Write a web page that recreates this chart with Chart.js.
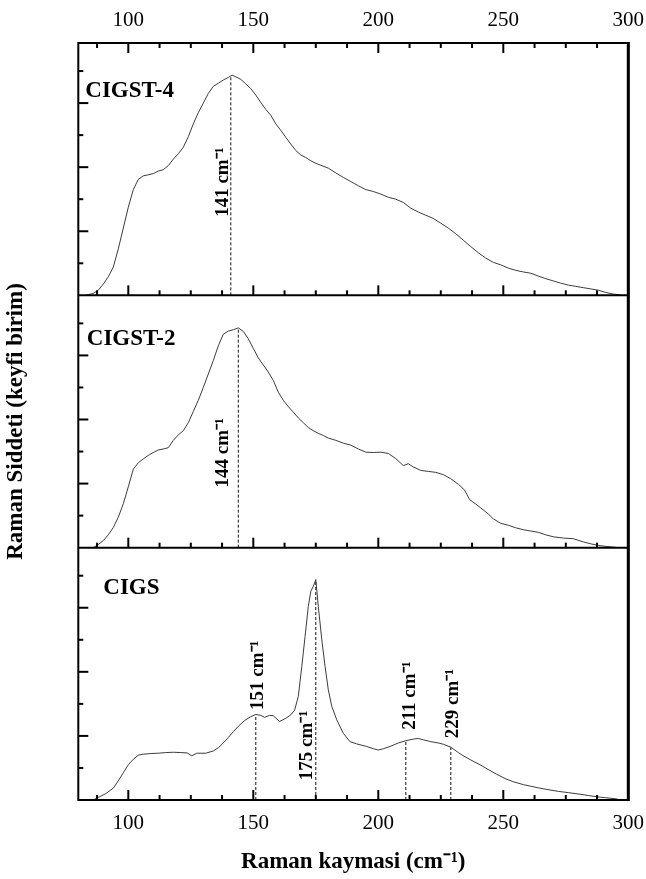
<!DOCTYPE html>
<html>
<head>
<meta charset="utf-8">
<title>Raman</title>
<script src="https://cdn.jsdelivr.net/npm/chart.js@4.4.1/dist/chart.umd.min.js"></script>
<style>
  html, body { margin: 0; padding: 0; background: #fff; }
  #wrap { width: 646px; height: 879px; }
</style>
</head>
<body>
<div id="wrap"><canvas id="raman" width="646" height="879"></canvas></div>
<script>
/* Raman spektrumlari – CIGST-4, CIGST-2, CIGS (ust uste uc panel) */

// CIGST-4
const cigst4Shift = [83, 86, 88, 90, 92, 94, 96, 98, 100, 102, 104, 106, 108, 110, 112, 114, 116, 118, 120, 122,
    124, 126, 128, 130, 132, 134, 136, 138, 140, 141.5, 143, 145, 147, 149, 151, 153, 155, 157, 159, 161,
    163, 165, 167, 169, 171, 173, 175, 177, 180, 183, 186, 189, 192, 195, 198, 201, 204, 207, 210, 213,
    216, 219, 222, 225, 228, 231, 234, 237, 240, 243, 246, 249, 252, 255, 258, 261, 264, 267, 270, 273,
    276, 279, 282, 285, 288, 291, 294, 297];
const cigst4Int = [0.0, 0.06, 0.16, 0.35, 0.58, 0.88, 1.45, 2.1, 2.75, 3.3, 3.62, 3.73, 3.76, 3.8, 3.88, 3.92, 4.05, 4.25, 4.42, 4.62,
    4.95, 5.35, 5.7, 6.0, 6.3, 6.52, 6.62, 6.72, 6.8, 6.87, 6.82, 6.74, 6.6, 6.45, 6.25, 6.02, 5.8, 5.62, 5.35, 5.15,
    4.93, 4.72, 4.52, 4.38, 4.3, 4.2, 4.12, 4.06, 3.97, 3.82, 3.68, 3.55, 3.42, 3.3, 3.24, 3.16, 3.06, 3.0, 2.9, 2.72,
    2.6, 2.5, 2.4, 2.25, 2.1, 1.92, 1.72, 1.52, 1.33, 1.16, 1.03, 0.95, 0.85, 0.78, 0.73, 0.69, 0.6, 0.52, 0.45, 0.38,
    0.32, 0.28, 0.24, 0.2, 0.16, 0.09, 0.04, 0.01];
const cigst4Peaks = [141];

// CIGST-2
const cigst2Shift = [86, 88, 90, 92, 94, 96, 98, 100, 102, 104, 106, 108, 110, 112, 114, 116, 118, 120, 122, 124,
    126, 128, 130, 132, 134, 136, 138, 140, 142, 144, 146, 148, 150, 152, 154, 156, 158, 160, 162, 164,
    166, 168, 170, 172, 174, 176, 178, 180, 183, 186, 189, 192, 195, 198, 201, 204, 207, 210, 212, 214,
    217, 220, 223, 226, 229, 232, 234.5, 236.5, 239, 241, 244, 246, 249, 252, 255, 258, 261, 264, 267, 270,
    274, 278, 282, 285, 288, 291, 295];
const cigst2Int = [0.0, 0.1, 0.22, 0.4, 0.63, 0.95, 1.37, 1.9, 2.45, 2.65, 2.77, 2.88, 2.97, 3.05, 3.08, 3.12, 3.35, 3.52, 3.65, 3.9,
    4.25, 4.6, 5.0, 5.42, 5.84, 6.3, 6.66, 6.76, 6.8, 6.86, 6.75, 6.52, 6.22, 5.92, 5.7, 5.48, 5.22, 4.85, 4.6, 4.4,
    4.23, 4.05, 3.9, 3.75, 3.65, 3.57, 3.5, 3.42, 3.35, 3.26, 3.2, 3.08, 2.98, 2.97, 2.98, 2.94, 2.78, 2.56, 2.62, 2.52,
    2.41, 2.38, 2.35, 2.28, 2.15, 1.98, 1.8, 1.5, 1.36, 1.24, 1.05, 0.9, 0.76, 0.7, 0.62, 0.56, 0.52, 0.48, 0.4, 0.34,
    0.3, 0.28, 0.18, 0.12, 0.07, 0.04, 0.01];
const cigst2Peaks = [144];

// CIGS
const cigsShift = [86, 88, 91, 94, 96, 98, 100, 102, 104, 106, 109, 112, 115, 118, 121, 123.5, 125.4, 127.4, 131, 134,
    136, 138, 140, 142, 144, 146.5, 149, 151, 153, 154.5, 156.5, 158, 160.5, 163, 165, 166.5, 168, 169.4, 170.7, 172,
    173, 174, 175, 176, 177.4, 178.7, 180, 181.4, 183.4, 186, 188.7, 191.4, 195.4, 198, 200, 202, 204.7, 208, 211, 214,
    216, 218, 221, 224, 226, 229, 232, 234, 237, 240.7, 244, 247.4, 251, 254, 258, 261, 264, 267.4, 272, 276,
    280.7, 284, 287.4, 291, 294.7, 297];
const cigsInt = [0.0, 0.08, 0.2, 0.37, 0.6, 0.85, 1.1, 1.27, 1.4, 1.43, 1.45, 1.46, 1.48, 1.49, 1.48, 1.47, 1.38, 1.46, 1.46, 1.53,
    1.63, 1.78, 1.95, 2.13, 2.3, 2.48, 2.6, 2.67, 2.64, 2.58, 2.64, 2.63, 2.45, 2.55, 2.66, 2.8, 3.23, 4.17, 5.1, 6.04,
    6.51, 6.67, 6.875, 6.04, 5.0, 4.17, 3.44, 2.92, 2.5, 2.08, 1.82, 1.75, 1.67, 1.6, 1.56, 1.6, 1.67, 1.78, 1.85, 1.9,
    1.92, 1.88, 1.82, 1.78, 1.74, 1.65, 1.48, 1.38, 1.25, 1.1, 0.95, 0.8, 0.66, 0.57, 0.48, 0.43, 0.38, 0.33, 0.27, 0.23,
    0.18, 0.14, 0.1, 0.07, 0.04, 0.0];
const cigsPeaks = [151, 175, 211, 229];

// eksen
const shiftMin = 80, shiftMax = 300;
const majorStep = 50, minorStep = 12.5;
const intensityTicks = [1, 2, 3, 4, 5, 6, 7];
const panelTop = 7.875;

const SERIF = "'Liberation Serif', 'Times New Roman', serif";
const INK = '#000';
const CURVE = '#3c3c3c';

// etiket yerleri (px): dx = cizgiye gore taban cizgisi, base = yazinin alt ucu (yogunluk biriminde)
const peakLabelPos = {
    141: { dx: -2.5, base: 2.45 },
    144: { dx: -10, base: 1.88 },
    151: { dx: 7.5, base: 2.81 },
    175: { dx: -3.5, base: 0.62 },
    211: { dx: 9.2, base: 2.19 },
    229: { dx: 7.5, base: 1.93 },
};

const panels = [
    { name: 'CIGST-4', axis: 'yTop', shift: cigst4Shift, intensity: cigst4Int, peaks: cigst4Peaks, nameDx: 7, nameDy: 54 },
    { name: 'CIGST-2', axis: 'yMid', shift: cigst2Shift, intensity: cigst2Int, peaks: cigst2Peaks, nameDx: 8.5, nameDy: 50 },
    { name: 'CIGS',    axis: 'yBot', shift: cigsShift,   intensity: cigsInt,   peaks: cigsPeaks,   nameDx: 25, nameDy: 46 },
];

function valueAt(xs, ys, x) {
    for (let i = 1; i < xs.length; i++) {
        if (xs[i] >= x) {
            const t = (x - xs[i - 1]) / (xs[i] - xs[i - 1]);
            return ys[i - 1] + t * (ys[i] - ys[i - 1]);
        }
    }
    return 0;
}

const datasets = [];
panels.forEach(p => {
    datasets.push({
        label: p.name,
        yAxisID: p.axis,
        data: p.shift.map((x, i) => ({ x, y: p.intensity[i] })),
        borderColor: CURVE,
        borderWidth: 1,
        pointRadius: 0,
        tension: 0,
    });
    p.peaks.forEach(pk => {
        datasets.push({
            label: p.name + ' ' + pk,
            yAxisID: p.axis,
            data: [{ x: pk, y: 0 }, { x: pk, y: valueAt(p.shift, p.intensity, pk) }],
            borderColor: '#111',
            borderWidth: 1,
            borderDash: [3, 2],
            pointRadius: 0,
        });
    });
});

function yAxis(weight, title) {
    return {
        type: 'linear',
        position: 'left',
        stack: 'panels',
        stackWeight: 1,
        weight,
        min: 0,
        max: panelTop,
        ticks: { display: false },
        grid: { display: false, drawTicks: false },
        border: { display: false },
        title: title ? {
            display: true,
            text: title,
            color: INK,
            font: { family: SERIF, size: 23, weight: 'bold' },
            padding: { top: 2.2, bottom: 0 },
        } : { display: false },
        afterFit: s => { s.width = 78.3; },
    };
}

function xAxis(position, height, title) {
    return {
        type: 'linear',
        position,
        min: shiftMin,
        max: shiftMax,
        ticks: {
            stepSize: majorStep,
            includeBounds: false,
            maxRotation: 0,
            padding: 10.4,
            color: INK,
            font: { family: SERIF, size: 21 },
        },
        grid: { display: false, drawTicks: false },
        border: { display: false },
        title: title ? {
            display: true,
            text: title,
            color: INK,
            font: { family: SERIF, size: 23, weight: 'bold' },
            padding: { top: 0, bottom: 3.2 },
        } : { display: false },
        afterFit: s => {
            s.height = height;
            s.paddingLeft = 0;
            s.paddingRight = 0;
        },
    };
}

function line(ctx, x1, y1, x2, y2) {
    ctx.beginPath();
    ctx.moveTo(x1, y1);
    ctx.lineTo(x2, y2);
    ctx.stroke();
}

const framePlugin = {
    id: 'frame',
    afterDatasetsDraw(chart) {
        const { ctx, chartArea: a, scales } = chart;
        const xs = scales.x;
        const ys = panels.map(p => scales[p.axis]);
        ctx.save();
        ctx.strokeStyle = INK;
        ctx.lineWidth = 2;
        ctx.strokeRect(a.left, a.top, a.right - a.left, a.bottom - a.top);
        ctx.lineWidth = 3;
        line(ctx, a.right, a.top - 1, a.right, a.bottom + 1);
        ctx.lineWidth = 2;
        ys.slice(0, -1).forEach(s => line(ctx, a.left, s.bottom, a.right, s.bottom));

        // x tikleri (ice dogru)
        for (let k = 1; shiftMin + k * minorStep <= shiftMax; k++) {
            const val = shiftMin + k * minorStep - (shiftMin % minorStep === 0 ? 0 : 0);
            const v = Math.round(val / minorStep) * minorStep;
            if (v <= shiftMin) continue;
            const px = xs.getPixelForValue(v);
            const len = v % majorStep === 0 ? 10 : 5;
            line(ctx, px, a.top, px, a.top + len);
            ys.forEach(s => line(ctx, px, s.bottom, px, s.bottom - len));
        }
        // y tikleri
        ys.forEach(s => {
            intensityTicks.forEach(v => {
                const py = s.getPixelForValue(v);
                const len = v % 2 === 0 ? 10 : 5;
                line(ctx, a.left, py, a.left + len, py);
            });
        });
        ctx.restore();
    },
    afterDraw(chart) {
        const { ctx, chartArea: a, scales } = chart;
        const xs = scales.x;
        ctx.save();
        ctx.fillStyle = INK;
        panels.forEach(p => {
            const s = scales[p.axis];
            ctx.font = `bold 23px ${SERIF}`;
            ctx.textAlign = 'left';
            ctx.textBaseline = 'alphabetic';
            ctx.fillText(p.name, a.left + p.nameDx, s.top + p.nameDy);

            ctx.font = `bold 19px ${SERIF}`;
            p.peaks.forEach(pk => {
                const pos = peakLabelPos[pk];
                const px = xs.getPixelForValue(pk) + pos.dx;
                const py = s.getPixelForValue(pos.base);
                ctx.save();
                ctx.translate(px, py);
                ctx.rotate(-Math.PI / 2);
                ctx.fillText(pk + ' cm\u207B\u00B9', 0, 0);
                ctx.restore();
            });
        });
        ctx.restore();
    },
};

new Chart(document.getElementById('raman'), {
    type: 'line',
    data: { datasets },
    options: {
        responsive: false,
        devicePixelRatio: 1,
        animation: false,
        layout: { padding: { left: 0, right: 17.7, top: 0, bottom: 0 } },
        plugins: { legend: { display: false }, tooltip: { enabled: false } },
        scales: {
            x: xAxis('bottom', 79, 'Raman kaymasi (cm\u207B\u00B9)'),
            xTop: xAxis('top', 43),
            yTop: yAxis(3),
            yMid: yAxis(2, 'Raman Siddeti (keyfi birim)'),
            yBot: yAxis(1),
        },
    },
    plugins: [framePlugin],
});
</script>
</body>
</html>
